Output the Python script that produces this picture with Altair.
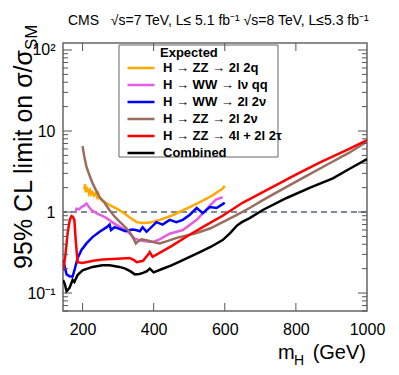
import altair as alt
import pandas as pd

series_names = ["H → ZZ → 2l 2q", "H → WW → lν qq", "H → WW → 2l 2ν",
                "H → ZZ → 2l 2ν", "H → ZZ → 4l + 2l 2τ", "Combined"]
series_colors = ["#ffa800", "#e45ee4", "#0000ff", "#9a6e5e", "#ff0000", "#000000"]

m_2l2q = [205, 207, 209, 211, 213, 215, 218, 221, 224, 228, 232, 236, 240, 243, 246, 250,
          256, 266, 276, 296, 315, 332, 352, 370, 390, 417, 450, 482, 510, 538, 565, 594, 600]
v_2l2q = [1.9, 2.2, 1.75, 2.05, 1.8, 1.95, 1.7, 1.85, 1.65, 1.75, 1.6, 1.7, 1.55, 1.8, 1.5, 1.45,
          1.38, 1.3, 1.22, 1.1, 0.98, 0.86, 0.75, 0.73, 0.74, 0.8, 0.9, 1.05, 1.2, 1.38, 1.6, 1.95, 2.1]

m_lvqq = [180, 183, 190, 197, 204, 211, 218, 225, 239, 254, 268, 285, 304, 320, 335, 347, 360,
          370, 389, 400, 417, 445, 482, 521, 540, 558, 575, 594]
v_lvqq = [1.0, 1.1, 1.08, 1.15, 1.2, 1.27, 1.15, 1.06, 0.97, 0.9, 0.84, 0.74, 0.66, 0.6, 0.53,
          0.47, 0.45, 0.44, 0.43, 0.43, 0.46, 0.54, 0.6, 0.8, 0.98, 1.2, 1.42, 1.52]

m_2l2v_ww = [145, 150, 155, 165, 172, 177, 186, 197, 211, 228, 248, 268, 276, 280, 290, 304, 320,
             332, 341, 350, 361, 369, 380, 408, 425, 445, 464, 482, 501, 521, 538, 558, 577, 594, 600]
v_2l2v_ww = [0.255, 0.21, 0.17, 0.16, 0.16, 0.19, 0.27, 0.34, 0.41, 0.49, 0.57, 0.65, 0.70, 0.6,
             0.65, 0.62, 0.58, 0.6, 0.61, 0.6, 0.58, 0.65, 0.57, 0.75, 0.7, 0.8, 0.75, 0.8, 0.92,
             1.12, 0.97, 1.15, 1.12, 1.25, 1.3]

m_2l2v_zz = [200, 205, 211, 220, 228, 238, 248, 262, 276, 290, 304, 320, 332, 342, 350, 358, 366,
             380, 395, 417, 440, 465, 490, 521, 560, 594, 630, 670, 707, 770, 830, 895, 950, 1000]
v_2l2v_zz = [6.5, 4.8, 3.6, 2.8, 2.27, 1.85, 1.53, 1.3, 1.05, 0.88, 0.76, 0.65, 0.57, 0.48, 0.41,
             0.44, 0.46, 0.45, 0.43, 0.41, 0.44, 0.48, 0.51, 0.55, 0.63, 0.75, 0.9, 1.12, 1.4, 2.0,
             2.8, 4.0, 5.4, 7.4]

m_4l = [146, 152, 158, 164, 169, 173, 177, 180, 183, 186, 200, 230, 256, 300, 332, 345, 352, 370,
        385, 389, 397, 450, 500, 550, 594, 650, 707, 800, 868, 950, 1000]
v_4l = [0.19, 0.3, 0.55, 0.8, 0.89, 0.87, 0.8, 0.5, 0.34, 0.24, 0.235, 0.25, 0.26, 0.265, 0.27,
        0.255, 0.24, 0.25, 0.3, 0.32, 0.28, 0.38, 0.52, 0.7, 0.9, 1.3, 1.76, 2.9, 4.1, 6.0, 7.7]

m_comb = [145, 150, 155, 163, 172, 177, 186, 200, 228, 256, 276, 304, 320, 335, 347, 360, 370,
          380, 389, 400, 420, 450, 482, 530, 560, 594, 615, 634, 648, 670, 707, 774, 840, 904, 950, 1000]
v_comb = [0.145, 0.13, 0.105, 0.115, 0.145, 0.137, 0.167, 0.19, 0.21, 0.22, 0.22, 0.21, 0.2,
          0.185, 0.17, 0.172, 0.177, 0.185, 0.2, 0.18, 0.195, 0.22, 0.255, 0.32, 0.37, 0.45, 0.55,
          0.68, 0.75, 0.84, 1.06, 1.49, 2.0, 2.6, 3.4, 4.5]

x_major = [200, 400, 600, 800]
x_labels = [200, 400, 600, 800, 1000]
y_major = [0.1, 1, 10, 100]
y_minor = [0.06, 0.07, 0.08, 0.09, 0.2, 0.3, 0.4, 0.5, 0.6, 0.7, 0.8, 0.9,
           2, 3, 4, 5, 6, 7, 8, 9, 20, 30, 40, 50, 60, 70, 80, 90]
ref_level = [1]

W, H = 304, 268
FONT = "Liberation Sans"

all_m = [m_2l2q, m_lvqq, m_2l2v_ww, m_2l2v_zz, m_4l, m_comb]
all_v = [v_2l2q, v_lvqq, v_2l2v_ww, v_2l2v_zz, v_4l, v_comb]
rows = []
for i, (name, ms, vs) in enumerate(zip(series_names, all_m, all_v)):
    for m, v in zip(ms, vs):
        rows.append({"series": name, "m": m, "v": v, "k": i})
df = pd.DataFrame(rows)

xscale = alt.Scale(domain=[145, 1000], nice=False, zero=False)
yscale = alt.Scale(type="log", domain=[0.06, 122], nice=False)
xaxis = alt.Axis(values=x_labels, format="d", ticks=False, domain=False, grid=False,
                 labelFont=FONT, labelFontSize=16, labelPadding=10, labelColor="black",
                 title=None, labelFlush=False)
yaxis = alt.Axis(values=y_major, ticks=False, domain=False, grid=False,
                 labelFont=FONT, labelFontSize=16, labelPadding=8, labelColor="black", title=None,
                 labelExpr="datum.value > 50 ? '10²' : datum.value > 5 ? '10' : datum.value > 0.5 ? '1' : '10⁻¹'")

X = alt.X("m:Q", scale=xscale, axis=xaxis)
Y = alt.Y("v:Q", scale=yscale, axis=yaxis)

lines = alt.Chart(df).mark_line(strokeWidth=2.5, clip=True).encode(
    x=X, y=Y,
    color=alt.Color("series:N", scale=alt.Scale(domain=series_names, range=series_colors),
                    sort=series_names,
                    legend=alt.Legend(title=None, orient="none", legendX=63, legendY=19,
                                      symbolType="stroke", symbolSize=729, symbolStrokeWidth=2.5,
                                      labelFont=FONT, labelFontSize=13, labelFontWeight="bold",
                                      labelColor="black", labelOffset=7, rowPadding=4,
                                      clipHeight=12, padding=0, labelLimit=220)),
    order="k:Q",
)

ref = alt.Chart(pd.DataFrame({"v": ref_level})).mark_rule(
    color="#7a8c9c", strokeWidth=2, strokeDash=[6, 4]).encode(y=Y)

box = alt.Chart(pd.DataFrame({"a": [0]})).mark_rect(
    fill="white", stroke="#666666", strokeWidth=1).encode(
    x=alt.value(56), x2=alt.value(215), y=alt.value(2), y2=alt.value(114))

tick_color = "#555555"
xt_b = alt.Chart(pd.DataFrame({"m": x_major})).mark_rule(color=tick_color, strokeWidth=1).encode(
    x=X, y=alt.value(H), y2=alt.value(H - 8))
xt_t = alt.Chart(pd.DataFrame({"m": x_major})).mark_rule(color=tick_color, strokeWidth=1).encode(
    x=X, y=alt.value(0), y2=alt.value(8))
yM_l = alt.Chart(pd.DataFrame({"v": y_major})).mark_rule(color=tick_color, strokeWidth=1).encode(
    y=Y, x=alt.value(0), x2=alt.value(9))
yM_r = alt.Chart(pd.DataFrame({"v": y_major})).mark_rule(color=tick_color, strokeWidth=1).encode(
    y=Y, x=alt.value(W - 9), x2=alt.value(W))
ym_l = alt.Chart(pd.DataFrame({"v": y_minor})).mark_rule(color=tick_color, strokeWidth=1).encode(
    y=Y, x=alt.value(0), x2=alt.value(5))
ym_r = alt.Chart(pd.DataFrame({"v": y_minor})).mark_rule(color=tick_color, strokeWidth=1).encode(
    y=Y, x=alt.value(W - 5), x2=alt.value(W))


def label(text, x, y, size, angle=0, align="left", baseline="alphabetic", weight="normal"):
    return alt.Chart(pd.DataFrame({"a": [0]})).mark_text(
        text=text, font=FONT, fontSize=size, angle=angle, align=align, baseline=baseline,
        fontWeight=weight, color="black").encode(x=alt.value(x), y=alt.value(y))


title = label("CMS\u00a0\u00a0\u00a0√s=7 TeV, L≤ 5.1 fb⁻¹ √s=8 TeV, L≤5.3 fb⁻¹", 5, -22, 14,
              baseline="middle")
expected = label("Expected", 97, 10, 13, baseline="middle", weight="bold")
xt1 = label("m", 215, 316, 20)
xt2 = label("H", 231, 322, 14)
xt3 = label("(GeV)", 303, 316, 20, align="right")
yt1 = label("95% CL limit on σ/σ", -31, 7, 25, angle=270, align="right")
yt2 = label("SM", -26, 7, 17, angle=270, align="left")

chart = alt.layer(
    ref, lines, box, xt_b, xt_t, yM_l, yM_r, ym_l, ym_r,
    expected, title, xt1, xt2, xt3, yt1, yt2
).properties(
    width=W, height=H,
    autosize=alt.AutoSizeParams(type="none"),
    padding={"left": 55, "top": 35, "right": 24, "bottom": 64},
).configure_view(stroke="#666666", strokeWidth=1.5).configure_axis(labelFont=FONT)

chart.save("out.html", embed_options={"renderer": "svg", "actions": False})
